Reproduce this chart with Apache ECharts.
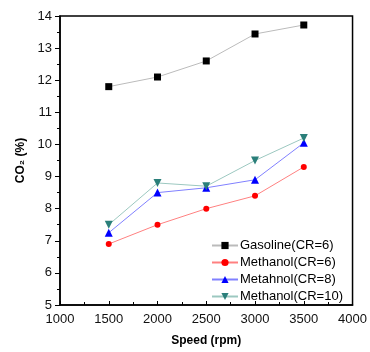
<!DOCTYPE html>
<html><head><meta charset="utf-8">
<script src="https://cdn.jsdelivr.net/npm/echarts@6/dist/echarts.min.js"></script>
<style>html,body{margin:0;padding:0;background:#fff}#c{width:370px;height:352px}</style>
</head><body><div id="c"></div>
<script>
const speeds = [1500, 2000, 2500, 3000, 3500];
const gasolineCR6 = [11.8, 12.1, 12.6, 13.44, 13.72];
const methanolCR6 = [6.9, 7.5, 8.0, 8.4, 9.3];
const methanolCR8 = [7.25, 8.5, 8.65, 8.9, 10.05];
const methanolCR10 = [7.5, 8.8, 8.7, 9.5, 10.2];
const seriesNames = ['Gasoline(CR=6)', 'Methanol(CR=6)', 'Metahnol(CR=8)', 'Methanol(CR=10)'];

const pair = arr => speeds.map((s, i) => [s, arr[i]]);
const chart = echarts.init(document.getElementById('c'));
const font = 'Liberation Sans, Arial, sans-serif';
function mk(name, data, lineColor, markColor, symbol, size, rotate) {
  return {
    name, type: 'line', data: pair(data), symbol, symbolSize: size, symbolRotate: rotate || 0,
    lineStyle: { color: lineColor, width: 1 },
    itemStyle: { color: markColor },
    emphasis: { disabled: true }
  };
}
chart.setOption({
  animation: false,
  grid: { left: 60, top: 16, right: 17, bottom: 46, show: true, borderColor: '#000', borderWidth: 1.5 },
  xAxis: {
    type: 'value', min: 1000, max: 4000, interval: 500,
    name: 'Speed (rpm)', nameLocation: 'middle', nameGap: 30,
    nameTextStyle: { fontFamily: font, fontWeight: 'bold', fontSize: 12, color: '#000' },
    axisLine: { lineStyle: { color: '#000', width: 1.5 } },
    axisTick: { inside: true, length: 4, lineStyle: { color: '#000' } },
    minorTick: { show: true, splitNumber: 2, length: 3, lineStyle: { color: '#000' } },
    splitLine: { show: false },
    axisLabel: { fontFamily: font, fontSize: 13, color: '#111', margin: 8, formatter: v => String(v) }
  },
  yAxis: {
    type: 'value', min: 5, max: 14, interval: 1,
    name: 'CO₂ (%)', nameLocation: 'middle', nameGap: 32, nameRotate: 90,
    nameTextStyle: { fontFamily: font, fontWeight: 'bold', fontSize: 12, color: '#000' },
    axisLine: { show: true, lineStyle: { color: '#000', width: 1.5 } },
    axisTick: { show: true, inside: false, length: 5, lineStyle: { color: '#000' } },
    minorTick: { show: true, splitNumber: 2, length: 3, lineStyle: { color: '#000' } },
    splitLine: { show: false },
    axisLabel: { fontFamily: font, fontSize: 13, color: '#111', margin: 8 }
  },
  legend: {
    orient: 'vertical', left: 206, top: 234, itemGap: 4, itemWidth: 26, itemHeight: 9,
    textStyle: { fontFamily: font, fontSize: 13, color: '#000', padding: [0,0,0,-3] },
    data: seriesNames
  },
  series: [
    mk(seriesNames[0], gasolineCR6, '#bbbbbb', '#000', 'rect', 7),
    mk(seriesNames[1], methanolCR6, '#ff8080', '#ff0000', 'circle', 6),
    mk(seriesNames[2], methanolCR8, '#8080ff', '#0000ff', 'triangle', 8),
    mk(seriesNames[3], methanolCR10, '#9cc8c0', '#2a7f7a', 'triangle', 8, 180)
  ]
});
</script></body></html>
